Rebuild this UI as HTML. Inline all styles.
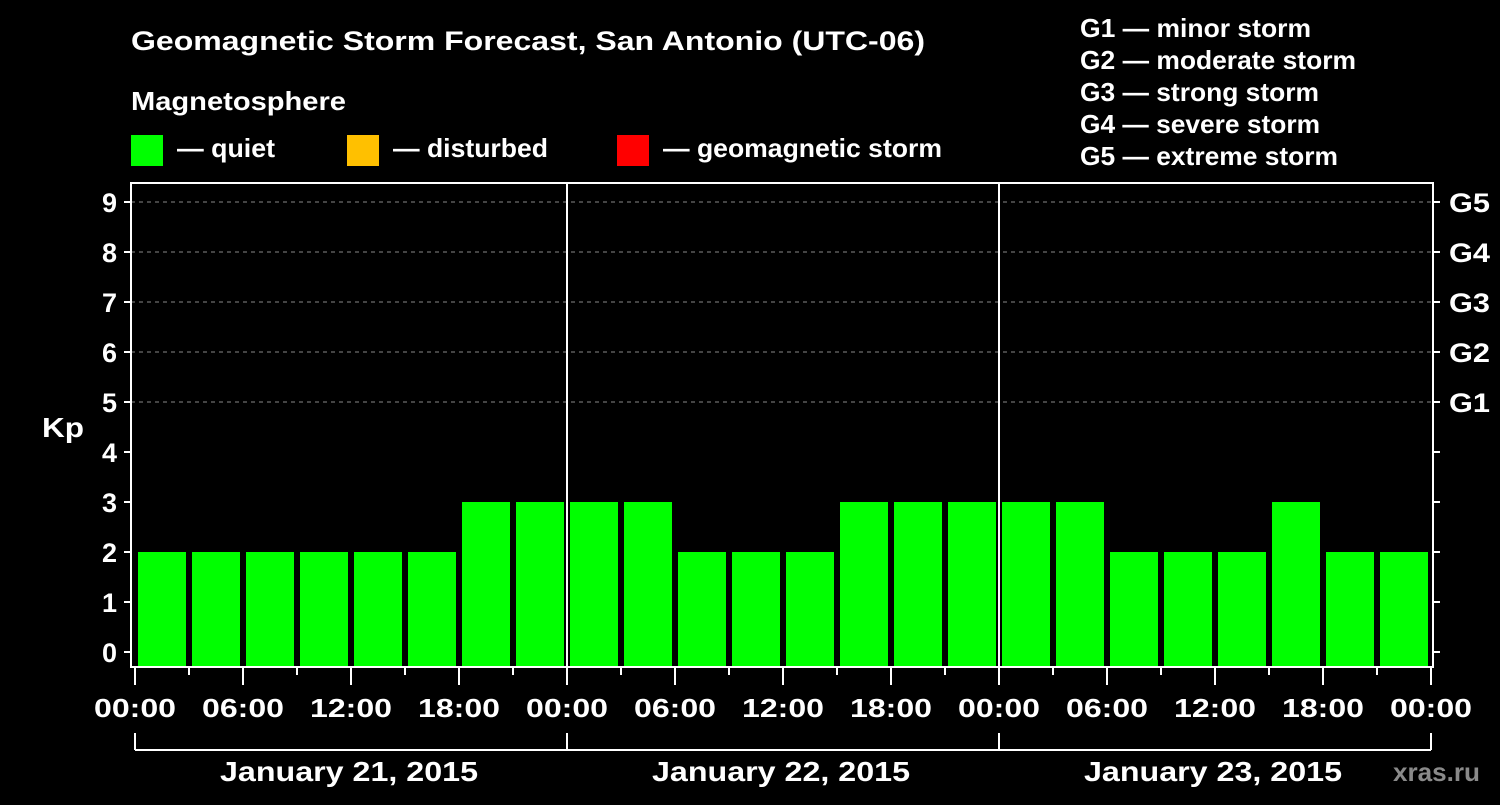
<!DOCTYPE html>
<html><head><meta charset="utf-8"><style>
body{margin:0;background:#000;width:1500px;height:800px;overflow:hidden}
svg text{font-family:"Liberation Sans",Arial,sans-serif;font-weight:bold;fill:#fff}
</style></head><body>
<svg id="chart" width="1500" height="800" xmlns="http://www.w3.org/2000/svg">
<text x="131" y="50" font-size="27" textLength="794" lengthAdjust="spacingAndGlyphs">Geomagnetic Storm Forecast, San Antonio (UTC-06)</text>
<text x="131" y="110" font-size="26" textLength="215" lengthAdjust="spacingAndGlyphs">Magnetosphere</text>
<g>
<rect x="131" y="135" width="32" height="31" fill="#00ff00"/>
<text x="177" y="157" font-size="26" textLength="98" lengthAdjust="spacingAndGlyphs">— quiet</text>
<rect x="347" y="135" width="32" height="31" fill="#ffc000"/>
<text x="393" y="157" font-size="26" textLength="155" lengthAdjust="spacingAndGlyphs">— disturbed</text>
<rect x="617" y="135" width="32" height="31" fill="#ff0000"/>
<text x="663" y="157" font-size="26" textLength="279" lengthAdjust="spacingAndGlyphs">— geomagnetic storm</text>
</g>
<g font-size="26">
<text x="1080" y="37" textLength="231" lengthAdjust="spacingAndGlyphs">G1 — minor storm</text>
<text x="1080" y="69" textLength="276" lengthAdjust="spacingAndGlyphs">G2 — moderate storm</text>
<text x="1080" y="101" textLength="239" lengthAdjust="spacingAndGlyphs">G3 — strong storm</text>
<text x="1080" y="133" textLength="240" lengthAdjust="spacingAndGlyphs">G4 — severe storm</text>
<text x="1080" y="165" textLength="258" lengthAdjust="spacingAndGlyphs">G5 — extreme storm</text>
</g>
<text x="42" y="437" font-size="28" textLength="42" lengthAdjust="spacingAndGlyphs">Kp</text>
<g id="grid"></g><g id="bars"></g><g id="axes"></g>
<text x="1393" y="781" font-size="26" textLength="87" lengthAdjust="spacingAndGlyphs" style="fill:#8a8a8a">xras.ru</text>
</svg>
<script>
const kpValues=[2,2,2,2,2,2,3,3, 3,3,2,2,2,3,3,3, 3,3,2,2,2,3,2,2];
const yTicks=[0,1,2,3,4,5,6,7,8,9];
const gLabels=["G1","G2","G3","G4","G5"];
const xTickLabels=["00:00","06:00","12:00","18:00","00:00","06:00","12:00","18:00","00:00","06:00","12:00","18:00","00:00"];
const dayLabels=["January 21, 2015","January 22, 2015","January 23, 2015"];
const NS="http://www.w3.org/2000/svg";
const X0=135,SLOT=54,Y0=652,UNIT=50,L=131,R=1433,T=183,B=667;
const x=i=>X0+i*SLOT, y=v=>Y0-v*UNIT;
function mk(tag,attrs,parent){const e=document.createElementNS(NS,tag);for(const k in attrs)e.setAttribute(k,attrs[k]);document.getElementById(parent).appendChild(e);return e;}
yTicks.forEach(v=>{if(v>=5){const l=mk('line',{x1:L,x2:R,y1:y(v),y2:y(v),stroke:'#888','stroke-dasharray':'4,4','stroke-width':1},'grid');}});
kpValues.forEach((v,i)=>{const c=v>=5?'#ff0000':(v>=4?'#ffc000':'#00ff00');
const r=mk('rect',{x:x(i)+3,y:y(v),width:48,height:B-y(v),fill:c},'bars');

});
const f=mk('rect',{x:L,y:T,width:R-L,height:B-T,fill:'none',stroke:'#fff','stroke-width':2},'axes');


[1,2].forEach(d=>{const l=mk('line',{x1:x(d*8),x2:x(d*8),y1:T,y2:B,stroke:'#fff','stroke-width':2},'axes');});
yTicks.forEach(v=>{mk('line',{x1:L-7,x2:L,y1:y(v),y2:y(v),stroke:'#fff','stroke-width':2},'axes');
mk('line',{x1:R,x2:R+7,y1:y(v),y2:y(v),stroke:'#fff','stroke-width':2},'axes');
const t=mk('text',{x:L-14,y:y(v)+10,'font-size':27,'text-anchor':'end'},'axes');t.textContent=v;
});
gLabels.forEach((g,i)=>{const t=mk('text',{x:R+16,y:y(5+i)+10,'font-size':27,textLength:41,lengthAdjust:'spacingAndGlyphs'},'axes');t.textContent=g;
});
for(let i=0;i<=24;i++){const major=i%2==0;mk('line',{x1:x(i),x2:x(i),y1:B,y2:B+(major?18:8),stroke:'#fff','stroke-width':2},'axes');}
xTickLabels.forEach((s,i)=>{const t=mk('text',{x:x(i*2)-41,y:717,'font-size':26,textLength:82,lengthAdjust:'spacingAndGlyphs'},'axes');t.textContent=s;
});
mk('line',{x1:x(0),x2:x(24),y1:750,y2:750,stroke:'#fff','stroke-width':2},'axes');
for(let d=0;d<=3;d++)mk('line',{x1:x(d*8),x2:x(d*8),y1:733,y2:750,stroke:'#fff','stroke-width':2},'axes');
dayLabels.forEach((s,d)=>{const t=mk('text',{x:x(d*8+4)-131,y:781,'font-size':28,textLength:258,lengthAdjust:'spacingAndGlyphs'},'axes');t.textContent=s;
});
</script>
</body></html>
